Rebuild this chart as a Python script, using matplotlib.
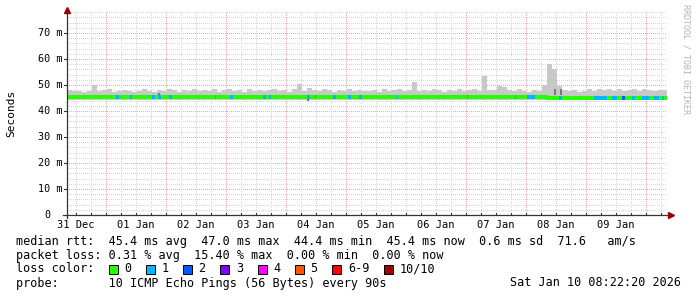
"""
SmokePing style latency chart: 10 days of median RTT with smoke and
loss-coloured median line, rrdtool look.
"""
from datetime import datetime, timedelta
import numpy as np
import matplotlib
matplotlib.use('Agg')
import matplotlib.pyplot as plt
from matplotlib.patches import Rectangle

W, H = 697, 297
START = datetime(2025, 12, 31, 8, 22, 20)
SPAN_H = 240
BIN_H = 2          # smoke / median sampled every 2 hours

# smoke (ping spread) upper edge per 2h bin, ms
smoke_top = [
    48.0, 47.6, 47.8, 47.4, 47.7, 50.0, 47.6, 47.9, 48.3, 47.5, 47.7, 48.2,
    47.6, 47.4, 47.8, 48.4, 47.7, 47.5, 48.0, 47.6, 48.3, 47.9, 47.4, 48.1,
    47.7, 48.6, 47.8, 48.2, 47.6, 48.4, 47.5, 47.9, 48.3, 47.6, 48.0, 47.5,
    48.5, 47.7, 48.1, 47.6, 47.9, 48.6, 47.8, 48.2, 47.5, 48.4, 50.3, 47.8,
    49.0, 48.0, 47.6, 48.3, 47.9, 47.5, 48.1, 47.7, 48.5, 47.8, 48.2, 47.6,
    47.6, 48.0, 47.5, 48.3, 47.7, 47.9, 48.4, 47.6, 48.1, 51.3, 47.8, 48.2,
    47.6, 48.4, 47.9, 47.5, 48.2, 47.7, 48.5, 47.6, 48.0, 48.3, 47.7, 53.6,
    48.2, 47.9, 49.7, 49.4, 48.0, 47.6, 48.3, 47.7, 47.5, 48.1, 47.8, 50.0,
    58.0, 56.0, 49.5, 47.9, 47.6, 48.2, 47.5, 47.8, 48.4, 47.6, 48.6, 47.9,
    48.3, 47.7, 48.5, 47.8, 48.1, 48.6, 47.7, 48.4, 48.0, 47.6, 48.2, 47.9,
]
SMOKE_LO = 44.3

# median rtt per 2h bin, ms
median = [
    45.2, 45.2, 45.2, 45.2, 45.2, 45.2, 45.2, 45.2, 45.2, 45.2, 45.2, 45.2,
    45.2, 45.2, 45.2, 45.2, 45.2, 45.2, 45.2, 45.2, 45.2, 45.2, 45.2, 45.2,
    45.2, 45.2, 45.2, 45.2, 45.2, 45.2, 45.2, 45.2, 45.2, 45.2, 45.2, 45.2,
    45.2, 45.2, 45.2, 45.2, 45.2, 45.2, 45.2, 45.2, 45.2, 45.2, 45.2, 45.2,
    45.2, 45.2, 45.2, 45.2, 45.2, 45.2, 45.2, 45.2, 45.2, 45.2, 45.2, 45.2,
    45.2, 45.2, 45.2, 45.2, 45.2, 45.2, 45.2, 45.2, 45.2, 45.2, 45.2, 45.2,
    45.2, 45.2, 45.2, 45.2, 45.2, 45.2, 45.2, 45.2, 45.2, 45.2, 45.2, 45.2,
    45.2, 45.2, 45.2, 45.2, 45.2, 45.2, 45.2, 45.2, 45.2, 45.2, 45.2, 45.2,
    45.0, 45.0, 45.0, 45.0, 45.0, 45.0, 45.0, 45.0, 45.0, 45.0, 45.0, 45.0,
    45.0, 45.0, 45.0, 45.0, 45.0, 45.0, 45.0, 45.0, 45.0, 45.0, 45.0, 45.0,
]

# (start hour, end hour, lost pings) -- stretches with packet loss
loss_events = [
    (19.6, 20.8, 1), (25.0, 25.8, 1), (34.0, 35.2, 1), (36.4, 37.6, 1),
    (40.8, 42.0, 1), (59.0, 59.6, 1), (65.0, 66.2, 1), (78.4, 79.6, 1),
    (80.8, 81.6, 1), (96.0, 97.2, 1), (99.0, 99.6, 1), (106.2, 107.4, 1),
    (112.2, 113.4, 1), (116.8, 118.0, 1), (131.4, 132.0, 1),
    (159.8, 160.4, 1), (179.0, 179.6, 1), (184.0, 187.2, 1),
    (196.8, 198.0, 1), (210.8, 216.0, 1), (218.0, 220.0, 1),
    (222.0, 223.2, 2), (226.0, 227.2, 1), (230.0, 232.8, 1),
    (234.8, 236.8, 1), (238.0, 238.8, 1),
]

# denser smoke patches (start hour, end hour, low ms, high ms)
dark_smoke = [
    (36.4, 37.0, 46.2, 46.9), (96.0, 96.8, 44.0, 44.7),
    (194.6, 195.4, 46.2, 48.6), (197.0, 197.8, 46.2, 48.6),
]

loss_labels = ['0', '1', '2', '3', '4', '5', '6-9', '10/10']
loss_colors = ['#26ff00', '#00b8ff', '#0059ff', '#7e00ff',
               '#ff00ff', '#ff5500', '#ff0000', '#a10000']

stat_lines = [
    'median rtt:  45.4 ms avg  47.0 ms max  44.4 ms min  45.4 ms now'
    '  0.6 ms sd  71.6   am/s',
    'packet loss: 0.31 % avg  15.40 % max  0.00 % min  0.00 % now',
    'loss color:',
    'probe:       10 ICMP Echo Pings (56 Bytes) every 90s',
]
stamp = 'Sat Jan 10 08:22:20 2026'

MONO = 'DejaVu Sans Mono'
MINOR_C = '#d6d6d6'
MAJOR_C = '#eaa8a8'
ARROW_C = '#990000'


def fx(px):
    return px / W


def fy(py):
    return 1 - py / H


fig = plt.figure(figsize=(W / 100, H / 100), dpi=100)
fig.patch.set_facecolor('white')
ax_top = 12
ax = fig.add_axes([fx(67), fy(215), fx(600), (215 - ax_top) / H])
ymax = (215 - ax_top) / 2.6
ax.set_xlim(0, SPAN_H)
ax.set_ylim(0, ymax)
ax.axis('off')

# grid: 1px dotted, not antialiased, like rrdtool
for v in np.arange(2, ymax, 2):
    major = abs(v % 10) < 1e-6
    ax.axhline(v, color=MAJOR_C if major else MINOR_C, lw=0.72,
               ls=(0, (1, 2)), antialiased=False, zorder=0)
first_midnight = (datetime(2026, 1, 1) - START).total_seconds() / 3600
for h in np.arange(first_midnight - 24, SPAN_H, 6):
    if h <= 0.5:
        continue
    major = abs((h - first_midnight) % 24) < 1e-6
    ax.axvline(h, color=MAJOR_C if major else MINOR_C, lw=0.72,
               ls=(0, (1, 2)), antialiased=False, zorder=0)

# smoke
edges = np.arange(0, SPAN_H + BIN_H, BIN_H)
xs = np.repeat(edges, 2)[1:-1]
ax.fill_between(xs, SMOKE_LO, np.repeat(smoke_top, 2), color='#c8c8c8',
                lw=0, zorder=2)
for h0, h1, lo, hi in dark_smoke:
    ax.fill_between([h0, h1], lo, hi, color='#7a7a7a', lw=0, zorder=3)

# median line, coloured by loss
ax.plot(xs, np.repeat(median, 2), color=loss_colors[0], lw=2.9,
        solid_capstyle='butt', zorder=4)
for h0, h1, n in loss_events:
    m = median[int(h0 // BIN_H)]
    ax.plot([h0, h1], [m, m], color=loss_colors[min(n, 6)], lw=2.9,
            solid_capstyle='butt', zorder=5)

# axes with rrdtool arrows
ax.plot([0, 0], [-3 / 2.6, ymax + 1.0], color='#333333', lw=0.9,
        clip_on=False, zorder=6)
ax.plot([-1.6, SPAN_H + 1.2], [0, 0], color='#333333', lw=0.9,
        clip_on=False, zorder=6)
ax.plot(0, ymax + 0.9, marker='^', ms=4.5, color=ARROW_C, mec=ARROW_C,
        clip_on=False, zorder=7)
ax.plot(SPAN_H + 1.6, 0, marker='>', ms=4.5, color=ARROW_C, mec=ARROW_C,
        clip_on=False, zorder=7)
for v in range(10, int(ymax) + 1, 10):
    ax.plot([-1.2, 0], [v, v], color='#333333', lw=0.8, clip_on=False)
for h in np.arange(first_midnight - 24, SPAN_H, 6):
    if h > 0:
        ax.plot([h, h], [0, 2 / 2.6], color='#333333', lw=0.8)

# y labels
for v in range(0, int(ymax) + 1, 10):
    yy = fy(215 - v * 2.6)
    if v == 0:
        fig.text(fx(44.5), yy, '0', family=MONO, fontsize=7.3,
                 ha='left', va='center')
    else:
        fig.text(fx(37.5), yy, f'{v} m', family=MONO, fontsize=7.3,
                 ha='left', va='center')

# day labels centred at noon
for d in range(10):
    noon = datetime(2025, 12, 31, 12) + timedelta(days=d)
    h = (noon - START).total_seconds() / 3600
    fig.text(fx(67 + h * 2.5), fy(225), noon.strftime('%d %b'), family=MONO,
             fontsize=7.5, ha='center', va='center')

fig.text(fx(11), fy(113), 'Seconds', family=MONO, fontsize=8,
         rotation=90, ha='center', va='center')
fig.text(fx(686), fy(4), 'RRDTOOL / TOBI OETIKER', family=MONO,
         fontsize=6, rotation=270, ha='center', va='top', color='#b4b4b4')

# stats block
for i, line in enumerate(stat_lines):
    fig.text(fx(16), fy(241 + 14 * i), line, family=MONO, fontsize=8.5,
             ha='left', va='center')
fig.text(fx(681), fy(283), stamp, family=MONO, fontsize=8.5,
         ha='right', va='center')

x = 108.5
for lab, col in zip(loss_labels, loss_colors):
    fig.patches.append(Rectangle((fx(x), fy(273.5)), fx(9), 9 / H,
                                 transform=fig.transFigure, facecolor=col,
                                 edgecolor='black', lw=0.7))
    fig.text(fx(x + 15.5), fy(269), lab, family=MONO, fontsize=8.5,
             ha='left', va='center')
    x += 15.5 + len(lab) * 7.1 + 14.7

fig.savefig('out.png', dpi=100)
